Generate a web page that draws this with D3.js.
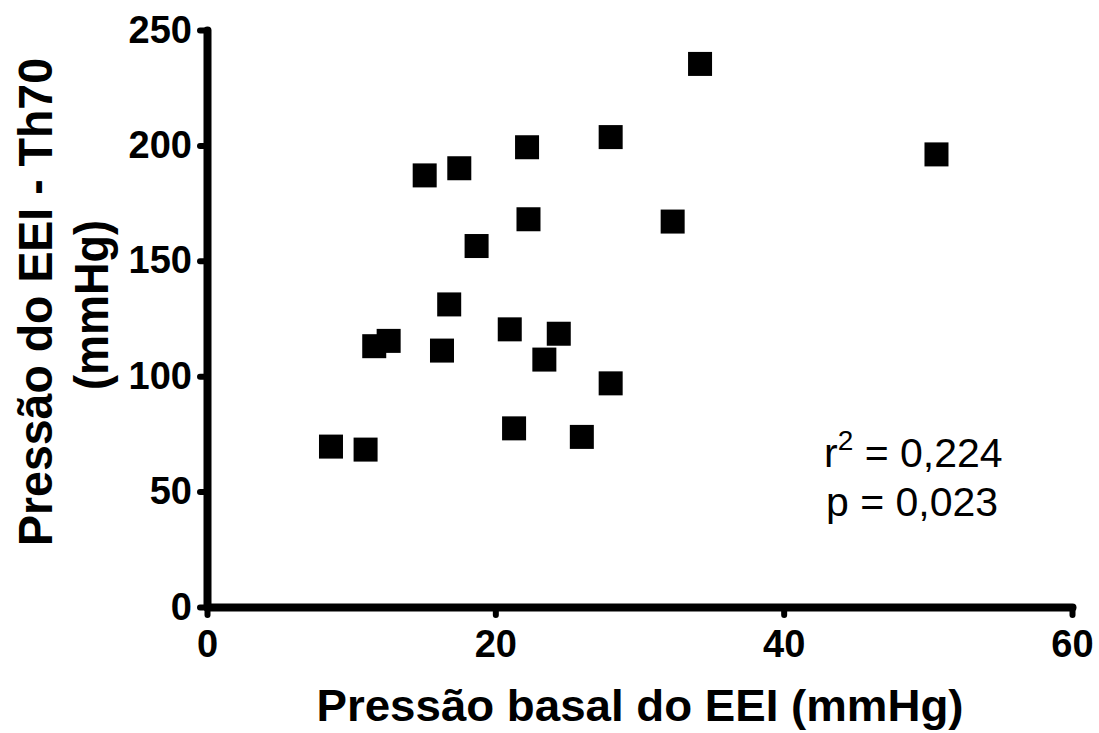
<!DOCTYPE html>
<html>
<head>
<meta charset="utf-8">
<script src="https://cdn.jsdelivr.net/npm/d3@7"></script>
<style>
  body { margin: 0; background: #fff; }
  svg { display: block; font-family: Arial, 'Liberation Sans', sans-serif; }
</style>
</head>
<body>
<div id="chart"></div>
<script>
// basal pressure (x) vs Th70 pressure (y), mmHg
const basal = [8.6, 11.0, 11.6, 12.6, 15.1, 17.5, 18.7, 16.8, 16.3, 21.0, 21.3,
  22.2, 22.3, 23.4, 24.4, 26.0, 28.0, 28.0, 32.3, 34.2, 50.6]
const th70 = [69.5, 68.2, 113.0, 115.3, 187.0, 190.1, 156.4, 131.1, 111.1, 120.3, 77.4,
  199.2, 168.0, 107.2, 118.4, 73.7, 203.6, 96.9, 167.0, 235.3, 196.1]
const xTicks = [0, 20, 40, 60]
const yTicks = [0, 50, 100, 150, 200, 250]
const stats = ['0,224', '0,023']

const width = 1099
const height = 733
const svg = d3.select('#chart')
  .append('svg')
  .attr('width', width)
  .attr('height', height)

const xScale = d3.scaleLinear().domain([0, 60]).range([207, 1072])
const yScale = d3.scaleLinear().domain([0, 250]).range([607, 30])

const axisX = d3.axisBottom(xScale).tickValues(xTicks).tickSize(8).tickSizeOuter(0).tickPadding(15)
const axisY = d3.axisLeft(yScale).tickValues(yTicks).tickSize(7).tickSizeOuter(0).tickPadding(8)

const gx = svg.append('g')
  .attr('class', 'axisX')
  .attr('transform', `translate(0, ${yScale(0)})`)
  .call(axisX)
const gy = svg.append('g')
  .attr('class', 'axisY')
  .attr('transform', `translate(${xScale(0)}, 0)`)
  .call(axisY)

for (const g of [gx, gy]) {
  g.select('.domain')
    .attr('stroke', '#000')
    .attr('stroke-width', 8)
    .attr('stroke-linecap', 'round')
  g.selectAll('.tick line')
    .attr('stroke', '#000')
    .attr('stroke-width', 6)
    .attr('stroke-linecap', 'round')
  g.selectAll('.tick text')
    .attr('fill', '#000')
    .attr('font-size', 38)
    .attr('font-weight', 'bold')
    .attr('font-family', "Arial, 'Liberation Sans', sans-serif")
}

// points
const size = 24
svg.append('g')
  .selectAll('rect')
  .data(basal.map((v, i) => ({ x: v, y: th70[i] })))
  .join('rect')
  .attr('x', d => xScale(d.x) - size / 2)
  .attr('y', d => yScale(d.y) - size / 2)
  .attr('width', size)
  .attr('height', size)
  .attr('fill', '#000')

// axis titles
svg.append('text')
  .attr('x', 640)
  .attr('y', 721)
  .attr('text-anchor', 'middle')
  .attr('font-size', 44)
  .attr('font-weight', 'bold')
  .attr('textLength', 647)
  .attr('lengthAdjust', 'spacingAndGlyphs')
  .text('Pressão basal do EEI (mmHg)')

svg.append('text')
  .attr('transform', 'translate(52, 302) rotate(-90)')
  .attr('text-anchor', 'middle')
  .attr('font-size', 48)
  .attr('font-weight', 'bold')
  .attr('textLength', 488)
  .attr('lengthAdjust', 'spacingAndGlyphs')
  .text('Pressão do EEI - Th70')

svg.append('text')
  .attr('transform', 'translate(108, 305) rotate(-90)')
  .attr('text-anchor', 'middle')
  .attr('font-size', 48)
  .attr('font-weight', 'bold')
  .attr('textLength', 170)
  .attr('lengthAdjust', 'spacingAndGlyphs')
  .text('(mmHg)')

// stats
const r2 = svg.append('text')
  .attr('x', 824)
  .attr('y', 467)
  .attr('font-size', 41)
r2.append('tspan').text('r')
r2.append('tspan').attr('font-size', 28).attr('dy', -17).text('2')
r2.append('tspan').attr('dy', 17).text(` = ${stats[0]}`)

svg.append('text')
  .attr('x', 826)
  .attr('y', 516)
  .attr('font-size', 41)
  .text(`p = ${stats[1]}`)
</script>
</body>
</html>
